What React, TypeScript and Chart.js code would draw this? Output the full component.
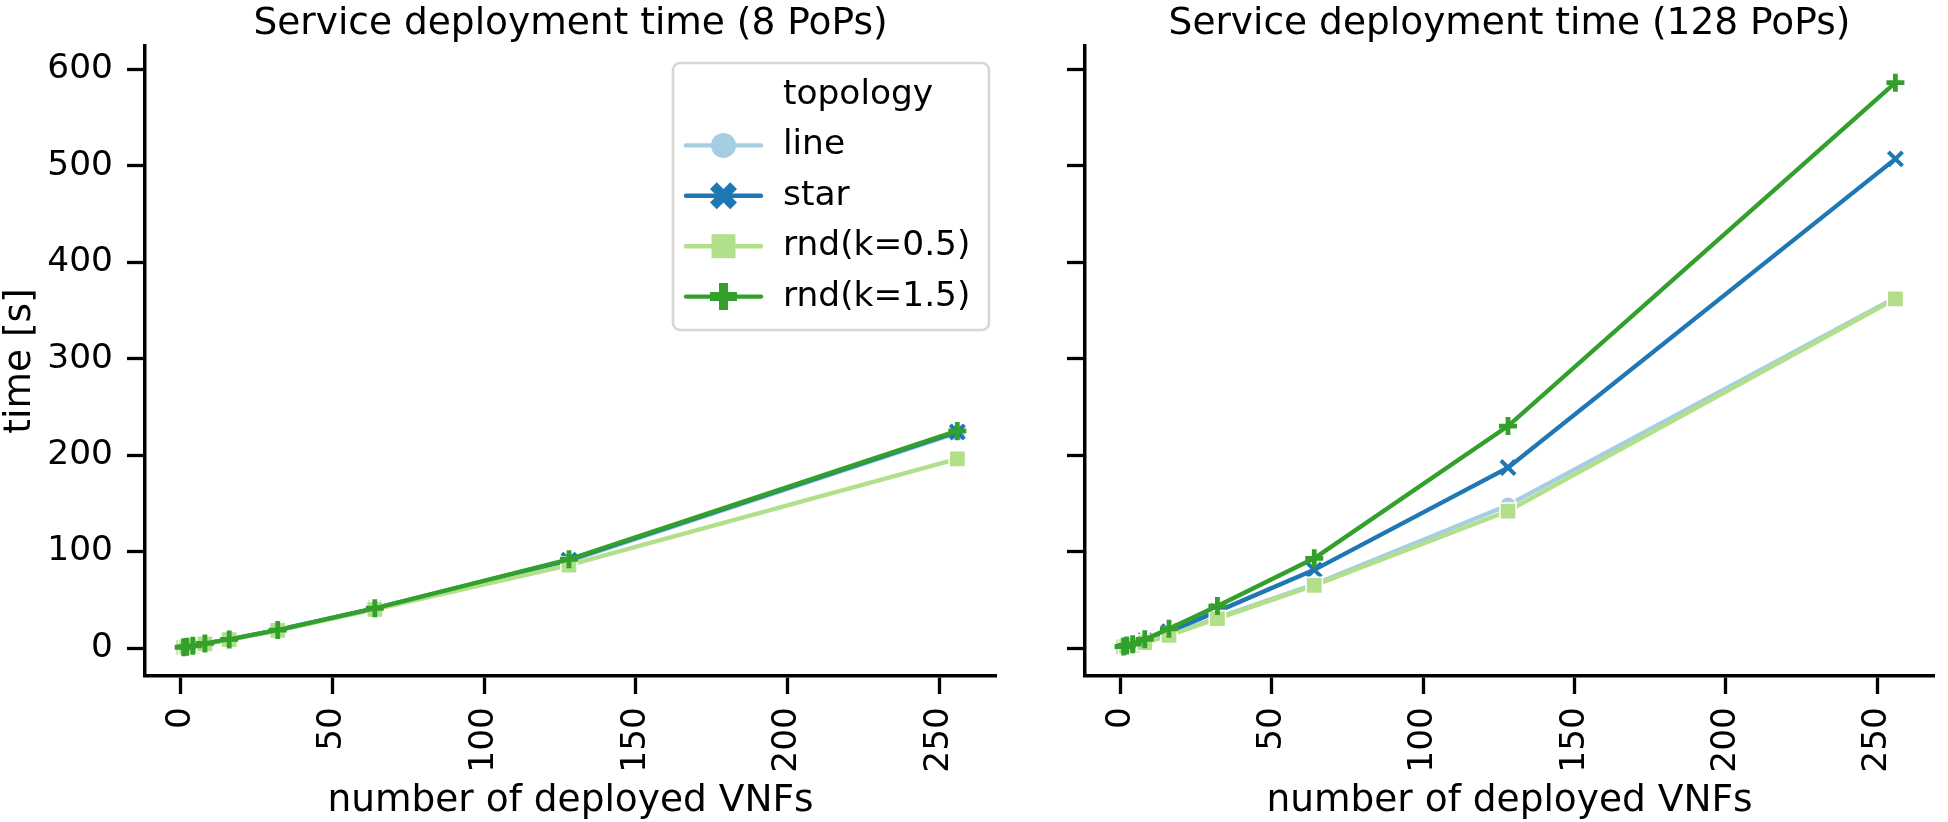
import { useEffect, useRef } from 'react';
import { Chart, registerables } from 'chart.js';

Chart.register(...registerables);

// ---------- data ----------
const vnfCounts = [1, 2, 4, 8, 16, 32, 64, 128, 256];
const topologies = ['line', 'star', 'rnd(k=0.5)', 'rnd(k=1.5)'];

const pops8Line = [0.7, 1.2, 2.2, 4.6, 8.8, 18.6, 40.8, 90, 223];
const pops8Star = [0.7, 1.2, 2.2, 4.6, 8.9, 18.7, 41, 91, 224];
const pops8Rnd05 = [0.7, 1.2, 2.1, 4.4, 8.6, 18.2, 40, 86, 196];
const pops8Rnd15 = [0.8, 1.3, 2.3, 4.8, 8.9, 18.6, 41.2, 92, 225];

const pops128Line = [1.2, 2, 3, 6, 13.5, 31.5, 66, 148, 363];
const pops128Star = [1.4, 2.3, 3.5, 7.5, 17, 38, 81, 187, 507];
const pops128Rnd05 = [1.1, 1.9, 2.9, 5.6, 13, 30.5, 65, 142, 362];
const pops128Rnd15 = [1.6, 2.6, 4, 9, 20, 43.5, 93, 230, 586];

const yTicks = [0, 100, 200, 300, 400, 500, 600];
const xTicks = [0, 50, 100, 150, 200, 250];

const panelTitles = ['Service deployment time (8 PoPs)', 'Service deployment time (128 PoPs)'];
const xAxisLabel = 'number of deployed VNFs';
const yAxisLabel = 'time [s]';
const legendTitle = 'topology';

// ---------- style ----------
const colors = ['#a6cee3', '#1f78b4', '#b2df8a', '#33a02c'];
const FONT = 'DejaVu Sans';

Chart.defaults.font.family = FONT;
Chart.defaults.color = '#000';

const pointStyles: any[] = ['circle', 'crossRot', 'rect', 'cross'];
const pointRadii = [8.5, 10, 11.5, 9];
const pointBorderWidths = [1.5, 4, 1.5, 4.8];
const pointBorderColors = ['#ffffff', colors[1], '#ffffff', colors[3]];

function makeDatasets(series: number[][]) {
  return series.map((vals, i) => ({
    label: topologies[i],
    data: vnfCounts.map((x, j) => ({ x, y: vals[j] })),
    borderColor: colors[i],
    backgroundColor: colors[i],
    borderWidth: 4.4,
    pointStyle: pointStyles[i],
    pointRadius: pointRadii[i],
    pointBorderWidth: pointBorderWidths[i],
    pointBorderColor: pointBorderColors[i],
    pointBackgroundColor: colors[i],
    tension: 0,
    order: 4 - i,
  }));
}

function drawMarker(ctx: CanvasRenderingContext2D, kind: number, cx: number, cy: number, color: string) {
  ctx.save();
  ctx.fillStyle = color;
  ctx.beginPath();
  if (kind === 0) {
    ctx.arc(cx, cy, 12.5, 0, Math.PI * 2);
  } else if (kind === 2) {
    ctx.rect(cx - 12, cy - 12, 24, 24);
  } else {
    const s = 27;
    const pts =
      kind === 1
        ? [[0.25, 0], [0.5, 0.25], [0.75, 0], [1, 0.25], [0.75, 0.5], [1, 0.75], [0.75, 1], [0.5, 0.75], [0.25, 1], [0, 0.75], [0.25, 0.5], [0, 0.25]]
        : [[1 / 3, 0], [2 / 3, 0], [2 / 3, 1 / 3], [1, 1 / 3], [1, 2 / 3], [2 / 3, 2 / 3], [2 / 3, 1], [1 / 3, 1], [1 / 3, 2 / 3], [0, 2 / 3], [0, 1 / 3], [1 / 3, 1 / 3]];
    pts.forEach(([px, py], k) => {
      const X = cx + (px - 0.5) * s;
      const Y = cy + (py - 0.5) * s;
      if (k === 0) ctx.moveTo(X, Y);
      else ctx.lineTo(X, Y);
    });
    ctx.closePath();
  }
  ctx.fill();
  ctx.restore();
}

const legendPlugin = {
  id: 'seabornLegend',
  afterDraw(chart: any) {
    const ctx: CanvasRenderingContext2D = chart.ctx;
    const area = chart.chartArea;
    const w = 316;
    const h = 267;
    const x0 = area.right - 7 - w;
    const y0 = area.top + 17;
    ctx.save();
    ctx.beginPath();
    (ctx as any).roundRect(x0, y0, w, h, 7);
    ctx.fillStyle = 'rgba(255,255,255,0.8)';
    ctx.fill();
    ctx.lineWidth = 2.6;
    ctx.strokeStyle = '#d6d6d6';
    ctx.stroke();

    ctx.font = `34.4px "${FONT}"`;
    ctx.fillStyle = '#000';
    ctx.textAlign = 'left';
    ctx.textBaseline = 'middle';
    const textX = x0 + 110;
    const rowY = (r: number) => y0 + 32 + r * 50.4;
    ctx.fillText(legendTitle, textX, rowY(0));
    chart.data.datasets.forEach((ds: any, i: number) => {
      const y = rowY(i + 1);
      ctx.beginPath();
      ctx.moveTo(x0 + 13, y);
      ctx.lineTo(x0 + 88, y);
      ctx.lineWidth = 4.4;
      ctx.lineCap = 'round';
      ctx.strokeStyle = ds.borderColor;
      ctx.stroke();
      drawMarker(ctx, i, x0 + 50.5, y, ds.borderColor);
      ctx.fillStyle = '#000';
      ctx.fillText(ds.label, textX, y);
    });
    ctx.restore();
  },
};

function makeOptions(panel: number): any {
  const isLeft = panel === 0;
  return {
    animation: false,
    responsive: false,
    maintainAspectRatio: false,
    devicePixelRatio: 1,
    layout: { padding: { left: 0, right: isLeft ? 4 : 2, top: 0, bottom: 0 } },
    plugins: {
      legend: { display: false },
      tooltip: { enabled: false },
      title: {
        display: true,
        text: panelTitles[panel],
        fullSize: false,
        color: '#000',
        font: { family: FONT, size: 37.5, weight: 'normal', lineHeight: 0.82 },
        padding: { top: 9, bottom: 6.25 },
      },
    },
    scales: {
      x: {
        type: 'linear',
        min: -11.75,
        max: 268.75,
        afterBuildTicks: (s: any) => {
          s.ticks = xTicks.map((v) => ({ value: v }));
        },
        afterFit: (s: any) => {
          s.height = 146;
        },
        ticks: {
          autoSkip: false,
          minRotation: 90,
          maxRotation: 90,
          padding: 13,
          color: '#000',
          font: { family: FONT, size: 34.4 },
        },
        grid: { display: true, drawOnChartArea: false, drawTicks: true, tickLength: 18, tickWidth: 3.3, tickColor: '#000' },
        border: { display: true, color: '#000', width: 3.5 },
        title: {
          display: true,
          text: xAxisLabel,
          color: '#000',
          font: { family: FONT, size: 37.5, lineHeight: 1.1 },
          padding: 0,
        },
      },
      y: {
        type: 'linear',
        min: -29,
        max: 624,
        afterBuildTicks: (s: any) => {
          s.ticks = yTicks.map((v) => ({ value: v }));
        },
        afterFit: (s: any) => {
          s.width = isLeft ? 145 : 75;
        },
        ticks: {
          padding: 14,
          color: '#000',
          font: { family: FONT, size: 34.4 },
          callback: (v: any) => (isLeft ? String(v) : ''),
        },
        grid: { display: true, drawOnChartArea: false, drawTicks: true, tickLength: 18, tickWidth: 3.3, tickColor: '#000' },
        border: { display: true, color: '#000', width: 3.5 },
        title: {
          display: isLeft,
          text: yAxisLabel,
          color: '#000',
          font: { family: FONT, size: 37.5, lineHeight: 1.1 },
          padding: 0,
        },
      },
    },
  };
}

export default function App() {
  const leftRef = useRef<HTMLCanvasElement | null>(null);
  const rightRef = useRef<HTMLCanvasElement | null>(null);

  useEffect(() => {
    const left = new Chart(leftRef.current as HTMLCanvasElement, {
      type: 'line',
      data: { datasets: makeDatasets([pops8Line, pops8Star, pops8Rnd05, pops8Rnd15]) as any },
      options: makeOptions(0),
      plugins: [legendPlugin],
    });
    const right = new Chart(rightRef.current as HTMLCanvasElement, {
      type: 'line',
      data: { datasets: makeDatasets([pops128Line, pops128Star, pops128Rnd05, pops128Rnd15]) as any },
      options: makeOptions(1),
    });
    return () => {
      left.destroy();
      right.destroy();
    };
  }, []);

  return (
    <div style={{ position: 'fixed', left: 0, top: 0, width: 1948, height: 822, background: '#fff' }}>
      <canvas
        ref={leftRef}
        width={1010}
        height={822}
        style={{ position: 'absolute', left: 0, top: 0, width: 1010, height: 822 }}
      />
      <canvas
        ref={rightRef}
        width={938}
        height={822}
        style={{ position: 'absolute', left: 1010, top: 0, width: 938, height: 822 }}
      />
    </div>
  );
}
